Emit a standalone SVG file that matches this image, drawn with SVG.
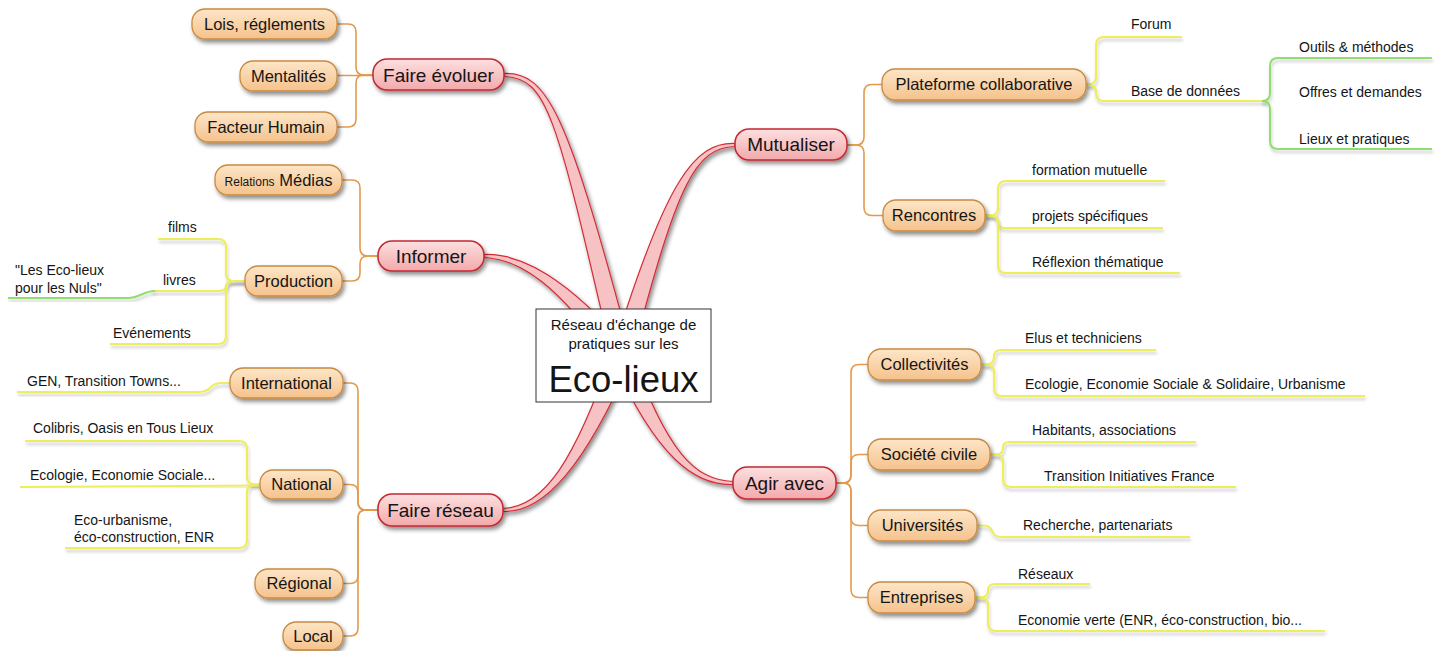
<svg xmlns="http://www.w3.org/2000/svg" width="1439" height="651" viewBox="0 0 1439 651">
<defs>
<filter id="sh" x="-20%" y="-30%" width="140%" height="180%"><feDropShadow dx="2" dy="3" stdDeviation="2" flood-color="#000" flood-opacity="0.45"/></filter>
<filter id="lsh" x="-5%" y="-50%" width="110%" height="200%"><feDropShadow dx="1" dy="3" stdDeviation="1.5" flood-color="#000" flood-opacity="0.2"/></filter>
<linearGradient id="gRed" x1="0" y1="0" x2="0" y2="1"><stop offset="0" stop-color="#fde0e0"/><stop offset="1" stop-color="#f3a9ab"/></linearGradient>
<linearGradient id="gOr" x1="0" y1="0" x2="0" y2="1"><stop offset="0" stop-color="#fde6c8"/><stop offset="1" stop-color="#f5c28c"/></linearGradient>
</defs>
<style>
text{font-family:"Liberation Sans",Arial,sans-serif;fill:#151515}
.red rect{fill:url(#gRed);stroke:#c22a33;stroke-width:1.5;filter:url(#sh)}
.red text{font-size:19px;text-anchor:middle}
.or rect{fill:url(#gOr);stroke:#c98a40;stroke-width:1.3;filter:url(#sh)}
.or text{font-size:16.5px;text-anchor:middle}
.leaf{font-size:14px}
.br{fill:#f7c2c3;stroke:#d42c36;stroke-width:1.2;filter:url(#sh)}
.oc{fill:none;stroke:#e39a4c;stroke-width:1.6}
.yc{fill:none;stroke:#eeee5c;stroke-width:2.2;filter:url(#lsh)}
.gc{fill:none;stroke:#92dc70;stroke-width:2;filter:url(#lsh)}
</style>
<rect width="1439" height="651" fill="#fff"/>

<g id="connectors">
<!-- main branches -->
<path class="br" d="M504,73.5 C548,72 567.8,113.6 631.7,353.6 L612.3,358.4 C556.2,116.4 548,78 504,76.5 Z"/>
<path class="br" d="M484,254.5 C522,253 566.7,278.2 629.8,349.7 L614.2,362.3 C557.3,285.8 522,259 484,257.5 Z"/>
<path class="br" d="M503,508.5 C545,507 574.4,459.8 612.7,352.3 L631.3,359.7 C585.6,464.2 545,513 503,511.5 Z"/>
<path class="br" d="M735,146.5 C695,148 677.8,181.6 631.6,358.7 L612.4,353.3 C666.2,178.4 695,142 735,143.5 Z"/>
<path class="br" d="M733,484.5 C695,486 656.4,457.3 612.7,359.8 L631.3,352.3 C667.6,452.8 695,480 733,481.5 Z"/>
<!-- orange -->
<path class="oc" d="M337,24 L348,24 Q356,24 356,32 L356,67 Q356,75 364,75 L373,75"/>
<path class="oc" d="M337,75.5 L373,75.5"/>
<path class="oc" d="M337,127 L348,127 Q356,127 356,119 L356,83 Q356,75 364,75 L373,75"/>
<path class="oc" d="M342,180 L352,180 Q360,180 360,188 L360,248 Q360,256 368,256 L378,256"/>
<path class="oc" d="M342,281 L352,281 Q360,281 360,273 L360,264 Q360,256 368,256 L378,256"/>
<path class="oc" d="M343,383 L350,383 Q358,383 358,391 L358,502 Q358,510 366,510 L378,510"/>
<path class="oc" d="M343,484.5 L350,484.5 Q358,484.5 358,492.5 L358,502 Q358,510 366,510 L378,510"/>
<path class="oc" d="M343,583.5 L350,583.5 Q358,583.5 358,575.5 L358,518 Q358,510 366,510 L378,510"/>
<path class="oc" d="M343,636 L350,636 Q358,636 358,628 L358,518 Q358,510 366,510 L378,510"/>
<path class="oc" d="M847,145 L856,145 Q864,145 864,137 L864,92.5 Q864,84.5 872,84.5 L882,84.5"/>
<path class="oc" d="M847,145 L856,145 Q864,145 864,153 L864,207.5 Q864,215.5 872,215.5 L883,215.5"/>
<path class="oc" d="M836,483 L843,483 Q851,483 851,475 L851,372.5 Q851,364.5 859,364.5 L868,364.5"/>
<path class="oc" d="M836,483 L843,483 Q851,483 851,475 L851,462.5 Q851,454.5 859,454.5 L868,454.5"/>
<path class="oc" d="M836,483 L843,483 Q851,483 851,491 L851,517.5 Q851,525.5 859,525.5 L868,525.5"/>
<path class="oc" d="M836,483 L843,483 Q851,483 851,491 L851,589.5 Q851,597.5 859,597.5 L868,597.5"/>
<!-- yellow right -->
<path class="yc" d="M1086,84.5 L1088,84.5 Q1096,84.5 1096,76.5 L1096,45 Q1096,37 1104,37 L1182,37"/>
<path class="yc" d="M1086,84.5 L1088,84.5 Q1096,84.5 1096,92.5 L1096,93 Q1096,101 1104,101 L1264,101"/>
<path class="yc" d="M985,215.5 L990,215.5 Q998,215.5 998,207.5 L998,189 Q998,181 1006,181 L1165,181"/>
<path class="yc" d="M985,215.5 L992,215.5 Q998,215.5 998,221.5 Q998,228 1004,228 L1163,228"/>
<path class="yc" d="M985,215.5 L990,215.5 Q998,215.5 998,223.5 L998,265 Q998,273 1006,273 L1180,273"/>
<path class="yc" d="M981,364.5 L986,364.5 Q994,364.5 994,357 Q994,350 1001,350 L1156,350"/>
<path class="yc" d="M981,364.5 L986,364.5 Q994,364.5 994,372.5 L994,388 Q994,396 1002,396 L1365,396"/>
<path class="yc" d="M990,454.5 L996,454.5 Q1003,454.5 1003,448 Q1003,442 1009,442 L1196,442"/>
<path class="yc" d="M990,454.5 L995,454.5 Q1003,454.5 1003,462.5 L1003,479 Q1003,487 1011,487 L1236,487"/>
<path class="yc" d="M977,525.5 L984,525.5 Q990,525.5 992,531 Q994,537 1002,537 L1190,537"/>
<path class="yc" d="M975,597.5 L980,597.5 Q988,597.5 988,591 Q988,584 995,584 L1090,584"/>
<path class="yc" d="M975,597.5 L980,597.5 Q988,597.5 988,605.5 L988,623 Q988,631 996,631 L1325,631"/>
<!-- green right -->
<path class="gc" d="M1262,101 Q1270,101 1270,93 L1270,66 Q1270,58 1278,58 L1432,58"/>
<path class="gc" d="M1262,101 L1432,101"/>
<path class="gc" d="M1262,101 Q1270,101 1270,109 L1270,141 Q1270,149 1278,149 L1432,149"/>
<!-- yellow left -->
<path class="yc" d="M245,281 L234,281 Q226,281 226,273 L226,247 Q226,239 218,239 L158,239"/>
<path class="yc" d="M245,281 L236,281 Q226,281 226,286 Q226,291 218,291 L152,291"/>
<path class="yc" d="M245,281 L234,281 Q226,281 226,289 L226,336 Q226,344 218,344 L110,344"/>
<path class="gc" d="M155,291 C143,291 140,298 128,298 L8,298"/>
<path class="yc" d="M230,383 L222,383 Q214,383 210,388 Q206,392 198,392 L17,392"/>
<path class="yc" d="M260,484.5 L256,484.5 Q247,484.5 247,476.5 L247,449 Q247,441 239,441 L25,441"/>
<path class="yc" d="M260,485.5 L20,487"/>
<path class="yc" d="M260,484.5 L256,484.5 Q247,484.5 247,492.5 L247,540 Q247,548 239,548 L65,548"/>
</g>

<g id="center">
<rect x="536" y="309" width="175" height="93" fill="#fff" stroke="#333" stroke-width="1"/>
<text x="623.5" y="330" font-size="15" text-anchor="middle">Réseau d'échange de</text>
<text x="623.5" y="349" font-size="15" text-anchor="middle">pratiques sur les</text>
<text x="623.5" y="392" font-size="36.5" text-anchor="middle">Eco-lieux</text>
</g>

<g id="faire-evoluer" class="red"><rect x="373" y="59" width="131" height="31" rx="14"/><text x="438.5" y="81.5">Faire évoluer</text></g>
<g id="informer" class="red"><rect x="378" y="241" width="106" height="30" rx="14"/><text x="431" y="262.8">Informer</text></g>
<g id="faire-reseau" class="red"><rect x="378" y="494" width="125" height="32" rx="14"/><text x="440.5" y="516.8">Faire réseau</text></g>
<g id="mutualiser" class="red"><rect x="735" y="129" width="112" height="31" rx="14"/><text x="791" y="151.3">Mutualiser</text></g>
<g id="agir-avec" class="red"><rect x="733" y="467" width="103" height="32" rx="14"/><text x="784.5" y="489.8">Agir avec</text></g>

<g id="lois" class="or"><rect x="192" y="9" width="145" height="30" rx="13"/><text x="264.5" y="29.9">Lois, réglements</text></g>
<g id="mentalites" class="or"><rect x="240" y="61" width="97" height="30" rx="13"/><text x="288.5" y="81.9">Mentalités</text></g>
<g id="facteur" class="or"><rect x="195" y="112" width="142" height="30" rx="13"/><text x="266" y="132.9">Facteur Humain</text></g>
<g id="medias" class="or"><rect x="215" y="165" width="127" height="30" rx="13"/><text x="278.5" y="185.9"><tspan font-size="12">Relations</tspan> Médias</text></g>
<g id="production" class="or"><rect x="245" y="266" width="97" height="30" rx="13"/><text x="293.5" y="286.9">Production</text></g>
<g id="international" class="or"><rect x="230" y="368" width="113" height="30" rx="13"/><text x="286.5" y="388.9">International</text></g>
<g id="national" class="or"><rect x="260" y="470" width="83" height="29" rx="13"/><text x="301.5" y="490.4">National</text></g>
<g id="regional" class="or"><rect x="255" y="569" width="88" height="29" rx="13"/><text x="299" y="589.4">Régional</text></g>
<g id="local" class="or"><rect x="283" y="622" width="60" height="28" rx="13"/><text x="313" y="641.9">Local</text></g>
<g id="plateforme" class="or"><rect x="882" y="69" width="204" height="31" rx="13"/><text x="984" y="90.4">Plateforme collaborative</text></g>
<g id="rencontres" class="or"><rect x="883" y="200" width="102" height="31" rx="13"/><text x="934" y="221.4">Rencontres</text></g>
<g id="collectivites" class="or"><rect x="868" y="349" width="113" height="31" rx="13"/><text x="924.5" y="370.4">Collectivités</text></g>
<g id="societe" class="or"><rect x="868" y="439" width="122" height="31" rx="13"/><text x="929" y="460.4">Société civile</text></g>
<g id="universites" class="or"><rect x="868" y="510" width="109" height="31" rx="13"/><text x="922.5" y="531.4">Universités</text></g>
<g id="entreprises" class="or"><rect x="868" y="582" width="107" height="31" rx="13"/><text x="921.5" y="603.4">Entreprises</text></g>

<g id="leaves">
<text class="leaf" x="1131" y="29">Forum</text>
<text class="leaf" x="1131" y="96">Base de données</text>
<text class="leaf" x="1299" y="52">Outils &amp; méthodes</text>
<text class="leaf" x="1299" y="97">Offres et demandes</text>
<text class="leaf" x="1299" y="144">Lieux et pratiques</text>
<text class="leaf" x="1032" y="175">formation mutuelle</text>
<text class="leaf" x="1032" y="221">projets spécifiques</text>
<text class="leaf" x="1032" y="267">Réflexion thématique</text>
<text class="leaf" x="1025" y="343">Elus et techniciens</text>
<text class="leaf" x="1025" y="389">Ecologie, Economie Sociale &amp; Solidaire, Urbanisme</text>
<text class="leaf" x="1032" y="435">Habitants, associations</text>
<text class="leaf" x="1044" y="481">Transition Initiatives France</text>
<text class="leaf" x="1023" y="530">Recherche, partenariats</text>
<text class="leaf" x="1018" y="579">Réseaux</text>
<text class="leaf" x="1018" y="625">Economie verte (ENR, éco-construction, bio...</text>
<text class="leaf" x="168" y="232">films</text>
<text class="leaf" x="163" y="285">livres</text>
<text class="leaf" x="113" y="338">Evénements</text>
<text class="leaf" x="15" y="275">"Les Eco-lieux</text>
<text class="leaf" x="15" y="293">pour les Nuls"</text>
<text class="leaf" x="27" y="386">GEN, Transition Towns...</text>
<text class="leaf" x="33" y="433">Colibris, Oasis en Tous Lieux</text>
<text class="leaf" x="30" y="480">Ecologie, Economie Sociale...</text>
<text class="leaf" x="74" y="525">Eco-urbanisme,</text>
<text class="leaf" x="74" y="542">éco-construction, ENR</text>
</g>
</svg>
